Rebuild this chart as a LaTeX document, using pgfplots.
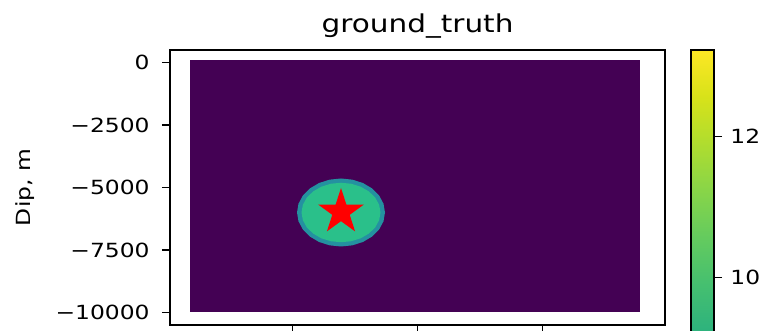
\documentclass[border=0pt]{standalone}
\usepackage{fontspec}
\setmainfont{DejaVu Sans}[FakeStretch=1.2]
\usepackage{pgfplots}
\pgfplotsset{compat=1.18}
\definecolor{vmin}{RGB}{68,1,84}
\definecolor{fringe}{RGB}{36,145,160}
\definecolor{core}{RGB}{42,192,138}
\pgfdeclareplotmark{fstar}{%
 \pgfpathmoveto{\pgfpointpolar{90}{\pgfplotmarksize}}%
 \pgfpathlineto{\pgfpointpolar{126}{0.382\pgfplotmarksize}}%
 \pgfpathlineto{\pgfpointpolar{162}{\pgfplotmarksize}}%
 \pgfpathlineto{\pgfpointpolar{198}{0.382\pgfplotmarksize}}%
 \pgfpathlineto{\pgfpointpolar{234}{\pgfplotmarksize}}%
 \pgfpathlineto{\pgfpointpolar{270}{0.382\pgfplotmarksize}}%
 \pgfpathlineto{\pgfpointpolar{306}{\pgfplotmarksize}}%
 \pgfpathlineto{\pgfpointpolar{342}{0.382\pgfplotmarksize}}%
 \pgfpathlineto{\pgfpointpolar{18}{\pgfplotmarksize}}%
 \pgfpathlineto{\pgfpointpolar{54}{0.382\pgfplotmarksize}}%
 \pgfpathclose\pgfusepathqfill}
\begin{document}
\begin{tikzpicture}
\begin{axis}[
 at={(0pt,0pt)}, anchor=south west,
 scale only axis, width=247.5pt, height=137.5pt,
 xmin=100, xmax=19900, ymin=-10500, ymax=500,
 scaled ticks=false,
 xtick={5000,10000,15000}, xticklabels={},
 ytick={-10000,-7500,-5000,-2500,0},
 yticklabels={−10000,−7500,−5000,−2500,0},
 tick pos=left, tick align=outside, major tick length=4pt,
 tick style={line width=0.6pt, black},
 axis line style={line width=0.6pt},
 ticklabel style={font=\fontsize{9.75}{11}\selectfont},
 yticklabel style={inner sep=0pt, xshift=-6pt},
 title={ground\_truth},
 every axis title/.style={font=\fontsize{12.3}{14}\selectfont, at={(0.5,1)}, anchor=base, yshift=8.5pt},
 ylabel={Dip, m},
 ylabel style={font=\fontsize{9.75}{11}\selectfont, at={(axis description cs:-0.2929,0.5)}, anchor=center},
 colormap/viridis, point meta min=2, point meta max=13.23,
 colorbar,
 colorbar style={
  at={(parent axis.north east)}, anchor=north west, xshift=4.5pt,
  width=11.5pt, height=395.9pt,
  scaled ticks=false,
  ytick={10,12}, yticklabels={10,12},
  tick align=outside, major tick length=4pt,
  ytick pos=right, yticklabel pos=right,
  yticklabel style={font=\fontsize{9.75}{11}\selectfont, inner sep=0pt, xshift=4pt},
  axis line style={line width=0.6pt},
  tick style={line width=0.6pt, black},
 },
]
\addplot[draw=none, fill=vmin, forget plot] coordinates {(900,100) (18900,100) (18900,-10000) (900,-10000)} -- cycle;
\addplot[draw=none, fill=fringe, forget plot] coordinates {
(8700,-6000) (8640,-5648) (8464,-5320) (8185,-5038) (7820,-4822) (7395,-4686) (6940,-4640)
(6485,-4686) (6060,-4822) (5695,-5038) (5416,-5320) (5240,-5648) (5180,-6000)
(5240,-6352) (5416,-6680) (5695,-6962) (6060,-7178) (6485,-7314) (6940,-7360)
(7395,-7314) (7820,-7178) (8185,-6962) (8464,-6680) (8640,-6352)} -- cycle;
\addplot[draw=none, fill=core, forget plot] coordinates {
(8520,-6000) (8466,-5692) (8308,-5405) (8057,-5159) (7730,-4969) (7349,-4851) (6940,-4810)
(6531,-4851) (6150,-4969) (5823,-5159) (5572,-5405) (5414,-5692) (5360,-6000)
(5414,-6308) (5572,-6595) (5823,-6841) (6150,-7031) (6531,-7149) (6940,-7190)
(7349,-7149) (7730,-7031) (8057,-6841) (8308,-6595) (8466,-6308)} -- cycle;
\addplot[only marks, mark=fstar, mark size=12pt, color=red, mark options={fill=red, draw=none}]
  coordinates {(6940,-5980)};
\end{axis}
\pgfresetboundingbox
\path[use as bounding box] (-85pt,-3pt) rectangle (300pt,162.5pt);
\end{tikzpicture}
\end{document}
